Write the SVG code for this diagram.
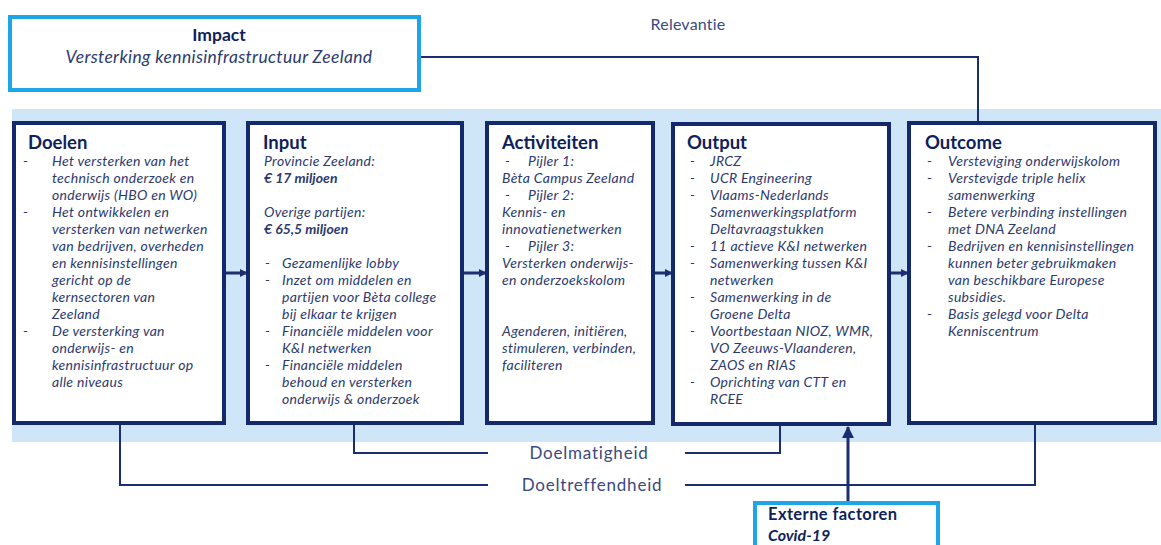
<svg xmlns="http://www.w3.org/2000/svg" width="1161" height="545" viewBox="0 0 1161 545">
<defs>
<style>
.box{fill:#fff;stroke:#13296b;stroke-width:4}
.cyan{fill:#fff;stroke:#1ca6e8;stroke-width:4}
.h{font-family:Lato,"Liberation Sans",sans-serif;font-weight:bold;font-size:18.5px;fill:#0f1f5c}
.t{font-family:Lato,"Liberation Sans",sans-serif;font-style:italic;font-size:14px;letter-spacing:0.3px;fill:#2c3a6e}
.b{font-weight:bold;letter-spacing:0}
.lbl{font-family:Lato,"Liberation Sans",sans-serif;font-size:17px;letter-spacing:0.8px;fill:#3a4a7f}
.ln{fill:none;stroke:#1c2e72;stroke-width:2}
.ar{fill:none;stroke:#1c2e72;stroke-width:3}
</style>
<marker id="ah" markerWidth="8" markerHeight="8" refX="7" refY="4" orient="auto" markerUnits="userSpaceOnUse">
<path d="M0,0 L8,4 L0,8 Z" fill="#1c2e72"/>
</marker>
<marker id="ahb" markerWidth="12" markerHeight="12" refX="11" refY="6" orient="auto" markerUnits="userSpaceOnUse">
<path d="M0,0 L12,6 L0,12 Z" fill="#1c2e72"/>
</marker>
</defs>
<rect x="0" y="0" width="1161" height="545" fill="#fff"/>
<rect id="band" x="12" y="109" width="1149" height="333" fill="#cfe5f8"/>

<g id="connectors">
<path class="ln" d="M419,57 H978 V123"/>
<path class="ln" d="M354,423 V453 H488"/>
<path class="ln" d="M685,453 H780 V425"/>
<path class="ln" d="M120,423 V485 H488"/>
<path class="ln" d="M685,485 H1035 V423"/>
<path class="ar" d="M224,273 H247" marker-end="url(#ah)"/>
<path class="ar" d="M462,273 H486" marker-end="url(#ah)"/>
<path class="ar" d="M653,273 H672" marker-end="url(#ah)"/>
<path class="ar" d="M889,273 H908" marker-end="url(#ah)"/>
<path class="ar" d="M848,503 V427" marker-end="url(#ahb)"/>
<text class="lbl" x="688" y="30" text-anchor="middle" style="font-size:16px;letter-spacing:0.2px">Relevantie</text>
<text class="lbl" x="589" y="459" text-anchor="middle">Doelmatigheid</text>
<text class="lbl" x="592" y="491" text-anchor="middle">Doeltreffendheid</text>
</g>

<g id="impact">
<rect class="cyan" x="10" y="17" width="409" height="73"/>
<text class="h" x="219" y="41" text-anchor="middle" style="font-size:17.5px">Impact</text>
<text class="t" x="219" y="63" text-anchor="middle" style="font-size:17.5px;letter-spacing:0.35px">Versterking kennisinfrastructuur Zeeland</text>
</g>

<g id="doelen">
<rect class="box" x="14" y="123" width="210" height="300"/>
<text class="h" x="28" y="149">Doelen</text>
<text class="t" x="23" y="166">-</text>
<text class="t" x="52" y="166">Het versterken van het</text>
<text class="t" x="52" y="183">technisch onderzoek en</text>
<text class="t" x="52" y="200">onderwijs (HBO en WO)</text>
<text class="t" x="23" y="217">-</text>
<text class="t" x="52" y="217">Het ontwikkelen en</text>
<text class="t" x="52" y="234">versterken van netwerken</text>
<text class="t" x="52" y="251">van bedrijven, overheden</text>
<text class="t" x="52" y="268">en kennisinstellingen</text>
<text class="t" x="52" y="285">gericht op de</text>
<text class="t" x="52" y="302">kernsectoren van</text>
<text class="t" x="52" y="319">Zeeland</text>
<text class="t" x="23" y="336">-</text>
<text class="t" x="52" y="336">De versterking van</text>
<text class="t" x="52" y="353">onderwijs- en</text>
<text class="t" x="52" y="370">kennisinfrastructuur op</text>
<text class="t" x="52" y="387">alle niveaus</text>
</g>

<g id="input">
<rect class="box" x="248" y="123" width="214" height="300"/>
<text class="h" x="263" y="149">Input</text>
<text class="t" x="264" y="166">Provincie Zeeland:</text>
<text class="t b" x="264" y="183">€ 17 miljoen</text>
<text class="t" x="264" y="217">Overige partijen:</text>
<text class="t b" x="264" y="234">€ 65,5 miljoen</text>
<text class="t" x="265" y="268">-</text>
<text class="t" x="282" y="268">Gezamenlijke lobby</text>
<text class="t" x="265" y="285">-</text>
<text class="t" x="282" y="285">Inzet om middelen en</text>
<text class="t" x="282" y="302">partijen voor Bèta college</text>
<text class="t" x="282" y="319">bij elkaar te krijgen</text>
<text class="t" x="265" y="336">-</text>
<text class="t" x="282" y="336">Financiële middelen voor</text>
<text class="t" x="282" y="353">K&amp;I netwerken</text>
<text class="t" x="265" y="370">-</text>
<text class="t" x="282" y="370">Financiële middelen</text>
<text class="t" x="282" y="387">behoud en versterken</text>
<text class="t" x="282" y="404">onderwijs &amp; onderzoek</text>
</g>

<g id="activiteiten">
<rect class="box" x="487" y="123" width="166" height="300"/>
<text class="h" x="502" y="149">Activiteiten</text>
<text class="t" x="505" y="166">-</text>
<text class="t" x="528" y="166">Pijler 1:</text>
<text class="t" x="502" y="183">Bèta Campus Zeeland</text>
<text class="t" x="505" y="200">-</text>
<text class="t" x="528" y="200">Pijler 2:</text>
<text class="t" x="502" y="217">Kennis- en</text>
<text class="t" x="502" y="234">innovatienetwerken</text>
<text class="t" x="505" y="251">-</text>
<text class="t" x="528" y="251">Pijler 3:</text>
<text class="t" x="502" y="268">Versterken onderwijs-</text>
<text class="t" x="502" y="285">en onderzoekskolom</text>
<text class="t" x="502" y="336">Agenderen, initiëren,</text>
<text class="t" x="502" y="353">stimuleren, verbinden,</text>
<text class="t" x="502" y="370">faciliteren</text>
</g>

<g id="output">
<rect class="box" x="673" y="124" width="216" height="300"/>
<text class="h" x="687" y="149">Output</text>
<text class="t" x="690" y="166">-</text>
<text class="t" x="710" y="166">JRCZ</text>
<text class="t" x="690" y="183">-</text>
<text class="t" x="710" y="183">UCR Engineering</text>
<text class="t" x="690" y="200">-</text>
<text class="t" x="710" y="200">Vlaams-Nederlands</text>
<text class="t" x="710" y="217">Samenwerkingsplatform</text>
<text class="t" x="710" y="234">Deltavraagstukken</text>
<text class="t" x="690" y="251">-</text>
<text class="t" x="710" y="251">11 actieve K&amp;I netwerken</text>
<text class="t" x="690" y="268">-</text>
<text class="t" x="710" y="268">Samenwerking tussen K&amp;I</text>
<text class="t" x="710" y="285">netwerken</text>
<text class="t" x="690" y="302">-</text>
<text class="t" x="710" y="302">Samenwerking in de</text>
<text class="t" x="710" y="319">Groene Delta</text>
<text class="t" x="690" y="336">-</text>
<text class="t" x="710" y="336">Voortbestaan NIOZ, WMR,</text>
<text class="t" x="710" y="353">VO Zeeuws-Vlaanderen,</text>
<text class="t" x="710" y="370">ZAOS en RIAS</text>
<text class="t" x="690" y="387">-</text>
<text class="t" x="710" y="387">Oprichting van CTT en</text>
<text class="t" x="710" y="404">RCEE</text>
</g>

<g id="outcome">
<rect class="box" x="909" y="123" width="246" height="300"/>
<text class="h" x="925" y="149">Outcome</text>
<text class="t" x="927" y="166">-</text>
<text class="t" x="948" y="166">Versteviging onderwijskolom</text>
<text class="t" x="927" y="183">-</text>
<text class="t" x="948" y="183">Verstevigde triple helix</text>
<text class="t" x="948" y="200">samenwerking</text>
<text class="t" x="927" y="217">-</text>
<text class="t" x="948" y="217">Betere verbinding instellingen</text>
<text class="t" x="948" y="234">met DNA Zeeland</text>
<text class="t" x="927" y="251">-</text>
<text class="t" x="948" y="251">Bedrijven en kennisinstellingen</text>
<text class="t" x="948" y="268">kunnen beter gebruikmaken</text>
<text class="t" x="948" y="285">van beschikbare Europese</text>
<text class="t" x="948" y="302">subsidies.</text>
<text class="t" x="927" y="319">-</text>
<text class="t" x="948" y="319">Basis gelegd voor Delta</text>
<text class="t" x="948" y="336">Kenniscentrum</text>
</g>

<g id="externe">
<rect class="cyan" x="755" y="503" width="183" height="60"/>
<text class="h" x="768" y="520" style="font-size:16.5px;letter-spacing:0.4px">Externe factoren</text>
<text class="h" x="768" y="541" style="font-size:16px;font-style:italic">Covid-19</text>
</g>
</svg>
